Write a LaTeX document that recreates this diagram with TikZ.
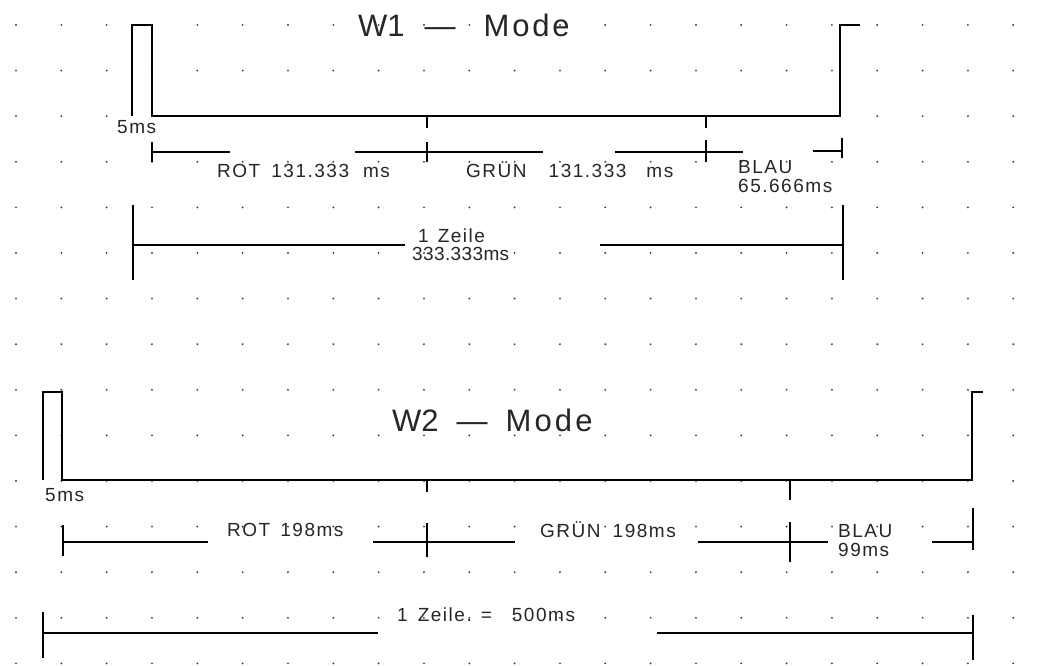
\documentclass[tikz,border=0pt]{standalone}
\usepackage{fontspec}
\setmainfont{Liberation Sans}
\newfontfamily\cadfont[LetterSpace=8]{Liberation Sans}
\newfontfamily\titlefont{Liberation Sans}
\begin{document}
\begin{tikzpicture}[x=1pt,y=-1pt,
  wave/.style={line width=1.5pt,black,line join=miter},
  dim/.style={line width=1.4pt,black},
  lbl/.style={font=\cadfont\fontsize{19}{21}\selectfont,inner sep=0pt,anchor=west,text=black!85},
  title/.style={font=\titlefont\fontsize{31}{34}\selectfont,inner sep=0pt,anchor=west,text=black!85},
  griddot/.style={fill=black!75}]
\useasboundingbox (0,0) rectangle (1061,666);
\fill[white] (0,0) rectangle (1061,666);
% dot grid
\foreach \i in {0,...,22}{
  \foreach \j in {0,...,14}{
    \fill[griddot] ({16+\i*45.33},{25+\j*45.6}) circle (1.05pt);
  }
}
% ===== W1 =====
\coordinate (a0) at (132,116);
\coordinate (a1) at (132,25);
\coordinate (a2) at (152,25);
\coordinate (a3) at (152,116);
\coordinate (a4) at (840,116);
\coordinate (a5) at (840,25);
\coordinate (a6) at (860,25);
\draw[wave] (a0) -- (a1) -- (a2) -- (a3) -- (a4) -- (a5) -- (a6);
\coordinate (t1a) at (427,116); \coordinate (t1b) at (427,128);
\coordinate (t2a) at (706,116); \coordinate (t2b) at (706,128);
\draw[dim] (t1a) -- (t1b);
\draw[dim] (t2a) -- (t2b);
\node[title] (w1) at (358,25) {W1\hspace{20pt}—\hspace{28pt}{\addfontfeature{LetterSpace=9}Mode}};
\node[lbl] (w1five) at (117,127) {5ms};
% segment row
\coordinate (r1) at (152,152);
\coordinate (r2) at (230,152);
\coordinate (r3) at (355,152);
\coordinate (r4) at (543,152);
\coordinate (r5) at (615,152);
\coordinate (r6) at (743,152);
\coordinate (r7) at (813,151);
\coordinate (r8) at (842,151);
\draw[dim] (r1) -- (r2);
\draw[dim] (r3) -- (r4);
\draw[dim] (r5) -- (r6);
\draw[dim] (r7) -- (r8);
\coordinate (k1a) at (152,142); \coordinate (k1b) at (152,162);
\coordinate (k2a) at (427,142); \coordinate (k2b) at (427,162);
\coordinate (k3a) at (706,140); \coordinate (k3b) at (706,162);
\coordinate (k4a) at (842,138); \coordinate (k4b) at (842,158);
\draw[dim] (k1a) -- (k1b);
\draw[dim] (k2a) -- (k2b);
\draw[dim] (k3a) -- (k3b);
\draw[dim] (k4a) -- (k4b);
\node[lbl] (rot1) at (217,171) {ROT\hspace{11pt}131.333\hspace{14pt}ms};
\node[lbl] (gruen1) at (466,170) {GRÜN\hspace{22pt}131.333\hspace{20pt}ms};
\node[lbl] (blau1) at (738,167) {BLAU};
\node[lbl] (blau1v) at (738,186) {65.666ms};
% 1 Zeile row
\coordinate (z1) at (133,245);
\coordinate (z2) at (405,245);
\coordinate (z3) at (600,245);
\coordinate (z4) at (843,245);
\draw[dim] (z1) -- (z2);
\draw[dim] (z3) -- (z4);
\coordinate (zk1a) at (133,205); \coordinate (zk1b) at (133,280);
\coordinate (zk2a) at (843,205); \coordinate (zk2b) at (843,280);
\draw[dim] (zk1a) -- (zk1b);
\draw[dim] (zk2a) -- (zk2b);
\node[lbl] (zeile1) at (418,236) {1\hspace{9pt}Zeile};
\node[lbl] (zeile1v) at (412,254) {\addfontfeature{LetterSpace=2}333.333ms};
% ===== W2 =====
\coordinate (b0) at (43,480);
\coordinate (b1) at (43,392);
\coordinate (b2) at (62,392);
\coordinate (b3) at (62,480);
\coordinate (b4) at (972,480);
\coordinate (b5) at (972,392);
\coordinate (b6) at (983,392);
\draw[wave] (b0) -- (b1) -- (b2) -- (b3) -- (b4) -- (b5) -- (b6);
\coordinate (u1a) at (427,480); \coordinate (u1b) at (427,492);
\coordinate (u2a) at (790,480); \coordinate (u2b) at (790,500);
\draw[dim] (u1a) -- (u1b);
\draw[dim] (u2a) -- (u2b);
\node[title] (w2) at (392,420) {W2\hspace{18pt}—\hspace{18pt}{\addfontfeature{LetterSpace=10}Mode}};
\node[lbl] (w2five) at (45,495) {5ms};
% segment row
\coordinate (s1) at (63,542);
\coordinate (s2) at (208,542);
\coordinate (s3) at (373,542);
\coordinate (s4) at (515,542);
\coordinate (s5) at (698,542);
\coordinate (s6) at (828,542);
\coordinate (s7) at (932,542);
\coordinate (s8) at (973,542);
\draw[dim] (s1) -- (s2);
\draw[dim] (s3) -- (s4);
\draw[dim] (s5) -- (s6);
\draw[dim] (s7) -- (s8);
\coordinate (m1a) at (63,525); \coordinate (m1b) at (63,556);
\coordinate (m2a) at (427,523); \coordinate (m2b) at (427,557);
\coordinate (m3a) at (790,522); \coordinate (m3b) at (790,562);
\coordinate (m4a) at (973,508); \coordinate (m4b) at (973,550);
\draw[dim] (m1a) -- (m1b);
\draw[dim] (m2a) -- (m2b);
\draw[dim] (m3a) -- (m3b);
\draw[dim] (m4a) -- (m4b);
\node[lbl] (rot2) at (227,530) {ROT\hspace{10pt}198ms};
\node[lbl] (gruen2) at (540,530) {GRÜN\hspace{12pt}198ms};
\node[lbl] (blau2) at (838,531) {BLAU};
\node[lbl] (blau2v) at (838,550) {99ms};
% 1 Zeile row
\coordinate (y1) at (43,633);
\coordinate (y2) at (378,633);
\coordinate (y3) at (657,633);
\coordinate (y4) at (973,633);
\draw[dim] (y1) -- (y2);
\draw[dim] (y3) -- (y4);
\coordinate (yk1a) at (43,612); \coordinate (yk1b) at (43,658);
\coordinate (yk2a) at (973,615); \coordinate (yk2b) at (973,660);
\draw[dim] (yk1a) -- (yk1b);
\draw[dim] (yk2a) -- (yk2b);
\node[lbl] (zeile2) at (397,615) {1\hspace{10pt}Zeile.\hspace{9pt}=\hspace{20pt}500ms};
\end{tikzpicture}
\end{document}
